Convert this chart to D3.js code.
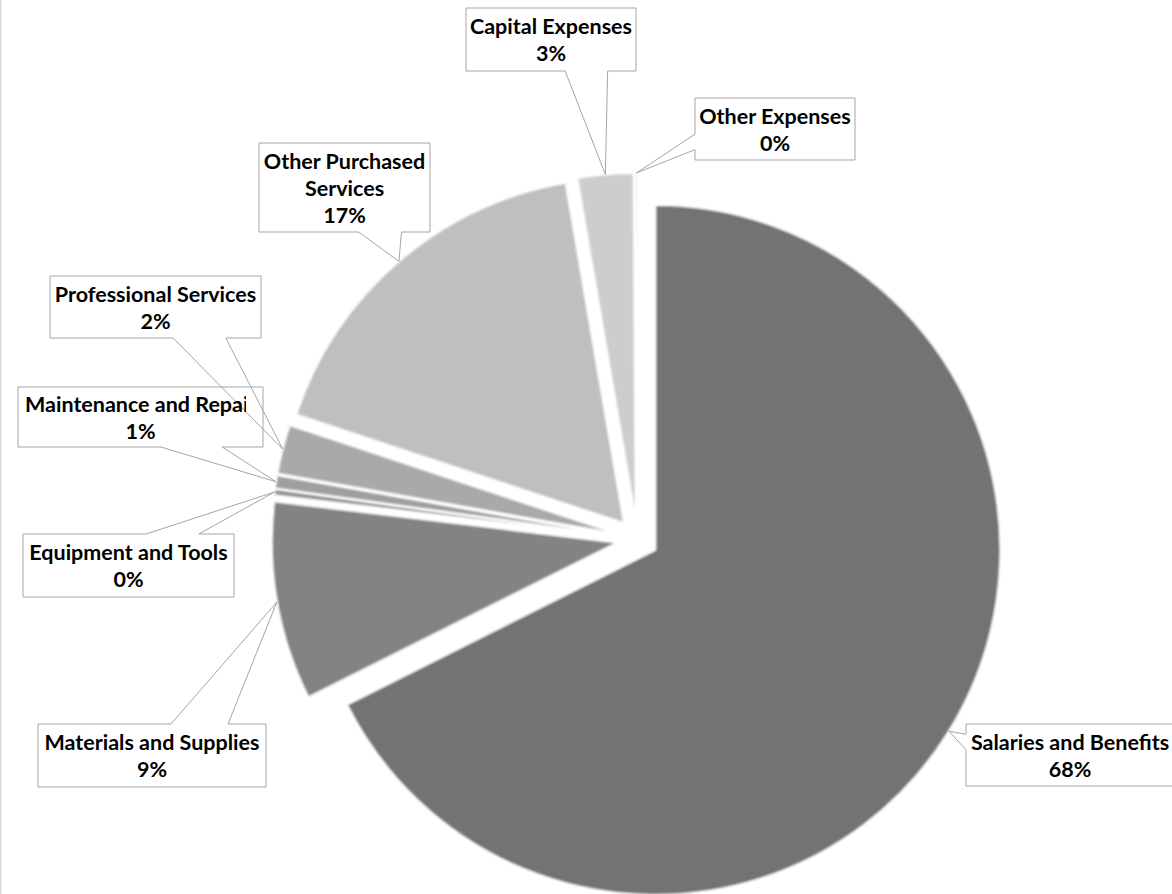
<!DOCTYPE html>
<html>
<head>
<meta charset="utf-8">
<script src="https://cdn.jsdelivr.net/npm/d3@7"></script>
<style>
  html, body { margin: 0; padding: 0; background: #fff; overflow: hidden; }
  svg { display: block; }
</style>
</head>
<body>
<svg id="chart" width="1172" height="894"></svg>
<script>
// Spending categories, clockwise from 12 o'clock
const categories = [
  "Salaries and Benefits",
  "Materials and Supplies",
  "Equipment and Tools",
  "Maintenance and Repairs",
  "Professional Services",
  "Other Purchased Services",
  "Capital Expenses",
  "Other Expenses"
];
// Share of total spending (percent)
const shares = [67.6, 9.3, 0.3, 0.6, 2.3, 17.2, 2.6, 0.1];

// Slice fills (grayscale theme)
const palette = ["#737373", "#838383", "#959595", "#9f9f9f", "#a9a9a9", "#bfbfbf", "#cdcdcd", "#d9d9d9"];

// Callout boxes: placement of each data label
const labelBoxes = [
  { x: 966, y: 724, w: 208, h: 62 },
  { x: 38,  y: 724, w: 228, h: 63 },
  { x: 23,  y: 534, w: 211, h: 63 },
  { x: 18,  y: 387, w: 245, h: 60, clip: 221 },
  { x: 50,  y: 276, w: 211, h: 62 },
  { x: 259, y: 143, w: 171, h: 89, wrap: 172 },
  { x: 466, y: 8,   w: 170, h: 63 },
  { x: 695, y: 98,  w: 160, h: 62 }
];

const W = 1172, H = 894;
const cx = 637.5, cy = 539;     // pie centre
const radius = 345;
const explode = 21;             // every slice pulled out along its bisector
const fontSize = 21.5;
const lineH = 27;

const svg = d3.select("#chart");

// chart-area border (only the left edge falls inside the frame)
svg.append("line")
  .attr("x1", 0.75).attr("x2", 0.75).attr("y1", 0).attr("y2", H)
  .attr("stroke", "#d9d9d9").attr("stroke-width", 1.5);

const defs = svg.append("defs");
defs.append("filter").attr("id", "soft")
  .attr("x", "-5%").attr("y", "-5%").attr("width", "110%").attr("height", "110%")
  .append("feGaussianBlur").attr("stdDeviation", 1.3);

const data = categories.map((c, i) => ({ name: c, value: shares[i], color: palette[i] }));
const total = d3.sum(shares);
const fmtPct = d3.format(".0%");

const pie = d3.pie().sort(null).value(d => d.value).startAngle(0).endAngle(2 * Math.PI);
const arcs = pie(data);
const arc = d3.arc().innerRadius(0).outerRadius(radius);
const rim = d3.arc().innerRadius(radius).outerRadius(radius);

function shift(d) {
  const a = (d.startAngle + d.endAngle) / 2;
  return [explode * Math.sin(a), -explode * Math.cos(a)];
}

const pieG = svg.append("g").attr("transform", `translate(${cx},${cy})`);
pieG.selectAll("path.slice")
  .data(arcs)
  .join("path")
  .attr("class", "slice")
  .attr("transform", d => `translate(${shift(d)})`)
  .attr("d", arc)
  .attr("fill", d => d.data.color)
  .attr("stroke", "#ffffff")
  .attr("stroke-width", 1.6)
  .attr("stroke-linejoin", "round")
  .attr("filter", "url(#soft)");

// Rectangular callout with a wedge pointing to (tx, ty)
function calloutPath(b, tx, ty) {
  const { x, y, w, h } = b;
  const hc = x + w / 2, vc = y + h / 2;
  const dxp = tx - hc, dyp = ty - vc;
  const inside = tx >= x && tx <= x + w && ty >= y && ty <= y + h;
  const p = d3.path();
  p.moveTo(x, y);
  if (inside) {
    p.lineTo(x + w, y); p.lineTo(x + w, y + h); p.lineTo(x, y + h); p.closePath();
    return p.toString();
  }
  const horiz = Math.abs(dxp) / w > Math.abs(dyp) / h;
  const x1 = x + w * (dxp > 0 ? 7 : 2) / 12, x2 = x + w * (dxp > 0 ? 10 : 5) / 12;
  const y1 = y + h * (dyp > 0 ? 7 : 2) / 12, y2 = y + h * (dyp > 0 ? 10 : 5) / 12;
  if (!horiz && dyp < 0) { p.lineTo(x1, y); p.lineTo(tx, ty); p.lineTo(x2, y); }
  p.lineTo(x + w, y);
  if (horiz && dxp > 0) { p.lineTo(x + w, y1); p.lineTo(tx, ty); p.lineTo(x + w, y2); }
  p.lineTo(x + w, y + h);
  if (!horiz && dyp > 0) { p.lineTo(x2, y + h); p.lineTo(tx, ty); p.lineTo(x1, y + h); }
  p.lineTo(x, y + h);
  if (horiz && dxp < 0) { p.lineTo(x, y2); p.lineTo(tx, ty); p.lineTo(x, y1); }
  p.closePath();
  return p.toString();
}

const labels = arcs.map((d, i) => {
  const s = shift(d);
  const r = rim.centroid(d);
  const tip = [cx + s[0] + r[0], cy + s[1] + r[1]];
  return { d, box: labelBoxes[i], tip, path: calloutPath(labelBoxes[i], tip[0], tip[1]) };
});

const labG = svg.append("g");
// white bodies first, then outlines, then text on top
labG.selectAll("path.body").data(labels).join("path")
  .attr("class", "body").attr("d", l => l.path)
  .attr("fill", "#ffffff").attr("stroke", "none");
labG.selectAll("path.outline").data(labels).join("path")
  .attr("class", "outline").attr("d", l => l.path)
  .attr("fill", "none").attr("stroke", "#a5a5a5").attr("stroke-width", 1)
  .attr("stroke-linejoin", "miter");

const textG = svg.append("g")
  .attr("font-family", "Lato, 'Open Sans', sans-serif")
  .attr("font-weight", 700)
  .attr("font-size", fontSize)
  .attr("fill", "#000000");

// measure helper for word wrapping
const probe = textG.append("text").attr("visibility", "hidden");
function measure(s) { probe.text(s); return probe.node().getComputedTextLength(); }

function wrapWords(str, maxW) {
  if (!maxW) return [str];
  const words = str.split(" ");
  const lines = [];
  let cur = "";
  words.forEach(wd => {
    const t = cur ? cur + " " + wd : wd;
    if (cur && measure(t) > maxW) { lines.push(cur); cur = wd; } else cur = t;
  });
  if (cur) lines.push(cur);
  return lines;
}

labels.forEach((l, i) => {
  const b = l.box;
  const lines = wrapWords(l.d.data.name, b.wrap).concat([fmtPct(l.d.data.value / total)]);
  const first = b.y + b.h / 2 - (lines.length * lineH) / 2 + 21.5;
  const g = textG.append("g");
  if (b.clip) {
    // name too long for its box: cut it at the inner margin
    const id = "clip" + i;
    defs.append("clipPath").attr("id", id)
      .append("rect").attr("x", b.x + 7).attr("y", b.y).attr("width", b.clip).attr("height", b.h);
    g.attr("clip-path", `url(#${id})`);
  }
  const t = g.append("text");
  lines.forEach((ln, k) => {
    const startAligned = b.clip && measure(ln) > b.clip;
    t.append("tspan")
      .attr("x", startAligned ? b.x + 7 : b.x + b.w / 2)
      .attr("text-anchor", startAligned ? "start" : "middle")
      .attr("y", first + k * lineH)
      .text(ln);
  });
});
probe.remove();
</script>
</body>
</html>
